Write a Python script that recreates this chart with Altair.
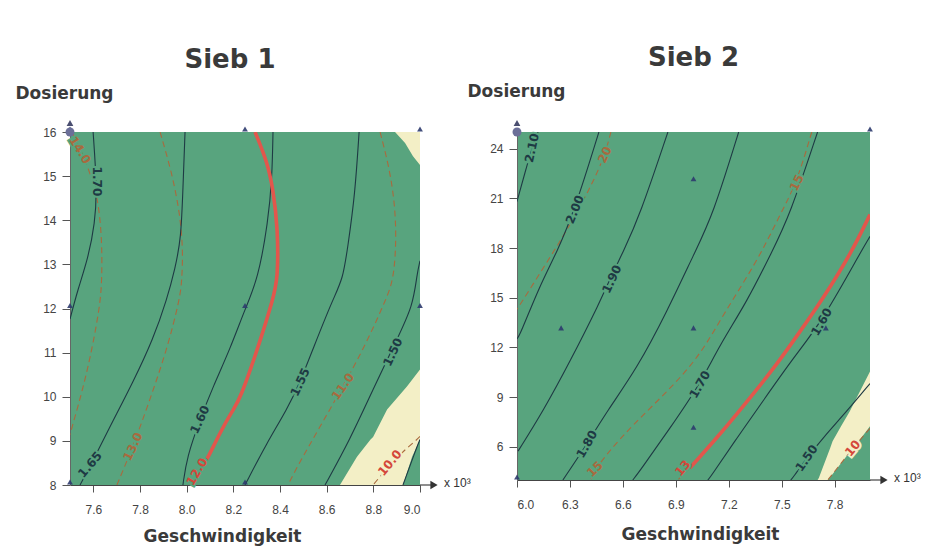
import altair as alt
import pandas as pd

# ---------------- colours ----------------
GREEN = "#58A47E"
CREAM = "#F3EFC6"
SOLID = "#1E3A44"
BROWN = "#A86A3E"
RED = "#E2564C"
MARK = "#2E3B6E"

# ================= Sieb 1 =================
S1_X_DOMAIN = [7.5, 9.0]
S1_Y_DOMAIN = [8, 16]
S1_X_TICKS = [7.6, 7.8, 8.0, 8.2, 8.4, 8.6, 8.8, 9.0]
S1_Y_TICKS = [8, 9, 10, 11, 12, 13, 14, 15, 16]

# solid contours (x, y)
s1_c170 = [(7.599, 16.0), (7.616, 14.72), (7.607, 13.93), (7.577, 13.13), (7.534, 12.44), (7.500, 11.76)]
s1_c165 = [(7.993, 16.0), (7.984, 14.72), (7.976, 13.58), (7.950, 12.90), (7.916, 12.22), (7.856, 11.30),
           (7.770, 10.33), (7.671, 9.32), (7.594, 8.50), (7.543, 8.0)]
s1_c160 = [(8.370, 16.0), (8.366, 14.95), (8.349, 13.97), (8.306, 12.67), (8.250, 11.99), (8.186, 11.08),
           (8.113, 10.23), (8.057, 9.48), (8.001, 8.64), (7.984, 8.0)]
s1_c155 = [(8.739, 16.0), (8.721, 14.56), (8.691, 13.42), (8.670, 12.67), (8.627, 12.22), (8.541, 11.08),
           (8.486, 10.33), (8.430, 9.71), (8.344, 8.96), (8.250, 8.0)]
s1_c150 = [(9.0, 13.08), (8.987, 12.78), (8.970, 12.06), (8.901, 11.30), (8.799, 10.17), (8.700, 9.03), (8.593, 8.0)]
s1_c145 = [(9.0, 9.03), (8.987, 8.87), (8.927, 8.0)]
# dashed contours
s1_d140 = [(7.509, 16.0), (7.543, 15.64), (7.586, 15.07), (7.620, 14.50), (7.637, 13.58), (7.637, 12.67),
           (7.629, 12.06), (7.586, 10.85), (7.543, 9.94), (7.509, 9.32), (7.500, 9.14)]
s1_d130 = [(7.886, 16.0), (7.937, 15.07), (7.971, 14.15), (7.984, 13.36), (7.980, 12.67), (7.971, 12.22),
           (7.916, 11.08), (7.843, 9.94), (7.770, 8.87), (7.701, 8.0)]
s1_d120 = [(8.070, 8.46), (8.014, 8.0)]
s1_d110 = [(8.829, 16.0), (8.880, 14.95), (8.901, 13.81), (8.889, 12.67), (8.855, 12.22), (8.773, 11.24),
           (8.670, 10.23), (8.571, 9.32), (8.473, 8.41), (8.434, 8.0)]
s1_d100 = [(9.0, 9.10), (8.987, 9.03), (8.901, 8.64), (8.816, 8.11), (8.799, 8.0)]
# highlighted (red) contour
s1_red = [(8.293, 16.0), (8.344, 15.34), (8.370, 14.72), (8.391, 13.81), (8.391, 12.67), (8.370, 12.22),
          (8.314, 11.24), (8.229, 9.94), (8.199, 9.71), (8.143, 9.19), (8.087, 8.57), (8.070, 8.46)]
# light regions: y, x-left, x-right
s1_cream1_y = [10.62, 10.23, 9.71, 9.09, 9.03, 8.64, 8.0]
s1_cream1_xl = [9.0, 8.944, 8.859, 8.799, 8.788, 8.730, 8.657]
s1_cream1_xr = [9.0, 9.0, 9.0, 9.0, 9.0, 8.966, 8.927]
s1_cream2_y = [16.0, 15.75, 15.45, 15.25]
s1_cream2_xl = [8.893, 8.936, 8.970, 9.0]
s1_cream2_xr = [9.0, 9.0, 9.0, 9.0]
# contour labels
s1_lab_text = ["14.0", "1.70", "1.65", "13.0", "1.60", "12.0", "1.55", "11.0", "1.50", "10.0"]
s1_lab_x = [7.543, 7.616, 7.586, 7.770, 8.057, 8.044, 8.486, 8.670, 8.884, 8.871]
s1_lab_y = [15.59, 14.88, 8.46, 8.87, 9.48, 8.30, 10.33, 10.23, 11.01, 8.50]
s1_lab_angle = [58, 90, -50, -65, -65, -60, -65, -55, -65, -50]
s1_lab_kind = ["dashed", "solid", "solid", "dashed", "solid", "red", "solid", "dashed", "solid", "red"]
s1_lab_halo = ["g", "g", "g", "g", "g", "g", "g", "g", "g", "c"]
# design points
s1_pts_x = [7.5, 8.25, 9.0, 7.5, 8.25, 9.0, 7.5, 8.25]
s1_pts_y = [16, 16, 16, 12, 12, 12, 8, 8]

# ================= Sieb 2 =================
S2_X_DOMAIN = [6.0, 8.0]
S2_Y_DOMAIN = [4, 25]
S2_X_TICKS = [6.0, 6.3, 6.6, 6.9, 7.2, 7.5, 7.8]
S2_Y_TICKS = [6, 9, 12, 15, 18, 21, 24]

s2_c210 = [(6.0, 20.8), (6.006, 21.04), (6.045, 22.54), (6.085, 24.04), (6.119, 25.0)]
s2_c200 = [(6.464, 25.0), (6.328, 20.32), (6.226, 17.74), (6.130, 15.76), (6.017, 12.76), (6.0, 12.52)]
s2_c190 = [(6.855, 25.0), (6.696, 19.96), (6.600, 17.74), (6.526, 16.12), (6.470, 14.74), (6.300, 11.14),
           (6.147, 8.14), (6.006, 5.74)]
s2_c180 = [(7.256, 25.0), (7.109, 19.96), (7.007, 17.74), (6.849, 14.14), (6.679, 10.72), (6.509, 8.14),
           (6.396, 6.16), (6.260, 4.0)]
s2_c170 = [(7.703, 25.0), (7.545, 19.96), (7.443, 17.74), (7.302, 14.74), (7.149, 12.16), (7.036, 9.76),
           (6.866, 7.12), (6.696, 4.54), (6.656, 4.0)]
s2_c160 = [(8.0, 18.70), (7.924, 17.32), (7.726, 13.54), (7.562, 11.32), (7.392, 8.74), (7.245, 6.52),
           (7.092, 4.12), (7.081, 4.0)]
s2_c150 = [(8.0, 9.82), (7.868, 8.14), (7.732, 6.52), (7.641, 5.32), (7.562, 4.12), (7.551, 4.0)]
s2_d20 = [(6.532, 25.0), (6.498, 23.62), (6.430, 21.94), (6.300, 19.36), (6.187, 17.44), (6.045, 15.04), (6.0, 14.3)]
s2_d15 = [(7.670, 25.0), (7.585, 21.94), (7.488, 19.96), (7.358, 17.14), (7.166, 13.96), (7.019, 11.14),
          (6.753, 8.32), (6.583, 6.52), (6.441, 4.66), (6.419, 4.0)]
s2_d13 = [(6.979, 4.72), (6.911, 4.0)]
s2_d10 = [(8.0, 7.12), (7.902, 5.92), (7.771, 4.12), (7.760, 4.0)]
s2_red = [(8.0, 20.02), (7.896, 17.74), (7.732, 14.92), (7.602, 12.94), (7.471, 10.96), (7.336, 9.16),
          (7.166, 6.94), (6.979, 4.72)]
s2_cream_y = [10.54, 8.14, 7.24, 6.34, 5.92, 4.12, 4.0]
s2_cream_xl = [8.0, 7.885, 7.836, 7.788, 7.774, 7.710, 7.703]
s2_cream_xr = [8.0, 8.0, 8.0, 7.936, 7.902, 7.771, 7.760]
s2_lab_text = ["2.10", "20", "2.00", "1.90", "15", "1.70", "1.60", "1.80", "15", "13", "1.50", "10"]
s2_lab_x = [6.085, 6.498, 6.328, 6.538, 7.585, 7.036, 7.726, 6.396, 6.441, 6.939, 7.641, 7.902]
s2_lab_y = [24.04, 23.62, 20.32, 16.12, 21.94, 9.76, 13.54, 6.16, 4.66, 4.72, 5.32, 5.92]
s2_lab_angle = [-78, -65, -68, -65, -65, -60, -60, -60, -45, -50, -55, -50]
s2_lab_kind = ["solid", "dashed", "solid", "solid", "dashed", "solid", "solid", "solid", "dashed", "red", "solid", "red"]
s2_lab_halo = ["g", "g", "g", "g", "g", "g", "g", "g", "g", "g", "g", "c"]
s2_pts_x = [8.0, 7.0, 6.25, 7.0, 7.75, 7.0, 6.0]
s2_pts_y = [25, 22, 13, 13, 13, 7, 4]

KIND_COLOR = {"solid": SOLID, "dashed": BROWN, "red": "#D4473A"}
HALO_COLOR = {"g": GREEN, "c": CREAM}


def lines_df(lines):
    rows = []
    for name, pts in lines.items():
        for i, (x, y) in enumerate(pts):
            rows.append({"line": name, "i": i, "x": x, "y": y})
    return pd.DataFrame(rows)


def panel(title, title_dx, xdom, ydom, xticks, yticks, w, h, xt_x, xt_pad, yt_x, yt_y,
          solid, dashed, red, creams, labs, pts):
    xs = alt.Scale(domain=xdom, nice=False, zero=False)
    ys = alt.Scale(domain=ydom, nice=False, zero=False)
    xax = alt.Axis(values=xticks, format=".1f", title="Geschwindigkeit", titleX=xt_x,
                   titleFont="DejaVu Sans", titleFontSize=17, titleFontWeight="bold", titleColor="#3a3a3a",
                   titlePadding=xt_pad, labelFont="Liberation Sans", labelFontSize=12, labelColor="#444",
                   tickSize=7, tickColor="#555", domainColor="#444", labelPadding=12, grid=False)
    yax = alt.Axis(values=yticks, format="d", title="Dosierung", titleAngle=0, titleAlign="left",
                   titleBaseline="middle", titleX=yt_x, titleY=yt_y,
                   titleFont="DejaVu Sans", titleFontSize=17, titleFontWeight="bold", titleColor="#3a3a3a",
                   labelFont="Liberation Sans", labelFontSize=12, labelColor="#444",
                   tickSize=8, tickColor="#555", domainColor="#666", labelPadding=6, grid=False)

    def X(f):
        return alt.X(f"{f}:Q", scale=xs, axis=xax)

    def Y(f):
        return alt.Y(f"{f}:Q", scale=ys, axis=yax)

    layers = []
    for cy, cxl, cxr in creams:
        cdf = pd.DataFrame({"y": cy, "xl": cxl, "xr": cxr})
        layers.append(alt.Chart(cdf).mark_area(orient="horizontal", color=CREAM, clip=True)
                      .encode(y=Y("y"), x=X("xl"), x2=alt.X2("xr:Q")))
    layers.append(alt.Chart(lines_df(dashed)).mark_line(color=BROWN, strokeWidth=1.1, strokeDash=[6, 4],
                                                        interpolate="basis", clip=True)
                  .encode(x=X("x"), y=Y("y"), detail="line:N", order="i:Q"))
    layers.append(alt.Chart(lines_df(solid)).mark_line(color=SOLID, strokeWidth=1.1,
                                                       interpolate="basis", clip=True)
                  .encode(x=X("x"), y=Y("y"), detail="line:N", order="i:Q"))
    layers.append(alt.Chart(lines_df(red)).mark_line(color=RED, strokeWidth=3.6,
                                                     interpolate="basis", clip=True)
                  .encode(x=X("x"), y=Y("y"), detail="line:N", order="i:Q"))
    ldf = pd.DataFrame({"t": labs[0], "x": labs[1], "y": labs[2], "a": labs[3],
                        "c": [KIND_COLOR[k] for k in labs[4]], "h": [HALO_COLOR[k] for k in labs[5]]})
    txt = dict(font="DejaVu Sans", fontWeight="bold", fontSize=12, align="center", baseline="middle")
    layers.append(alt.Chart(ldf).mark_text(strokeWidth=4, **txt)
                  .encode(x=X("x"), y=Y("y"), text="t:N", angle=alt.Angle("a:Q", scale=None),
                          color=alt.Color("h:N", scale=None), stroke=alt.Stroke("h:N", scale=None)))
    layers.append(alt.Chart(ldf).mark_text(**txt)
                  .encode(x=X("x"), y=Y("y"), text="t:N", angle=alt.Angle("a:Q", scale=None),
                          color=alt.Color("c:N", scale=None)))
    pdf = pd.DataFrame({"x": pts[0], "y": pts[1]})
    layers.append(alt.Chart(pdf).mark_point(shape="triangle-up", filled=True, size=34, color=MARK,
                                            opacity=0.9, yOffset=-3, clip=False)
                  .encode(x=X("x"), y=Y("y")))
    cdf = pd.DataFrame({"x": [xdom[0]], "y": [ydom[1]]})
    layers.append(alt.Chart(cdf).mark_point(shape="circle", filled=True, size=80, color="#6B6F98",
                                            opacity=1, clip=False).encode(x=X("x"), y=Y("y")))
    layers.append(alt.Chart(cdf).mark_point(shape="triangle-up", filled=True, size=45, color="#4A4E70",
                                            opacity=1, yOffset=-9, clip=False).encode(x=X("x"), y=Y("y")))
    adf = pd.DataFrame({"x": [xdom[1]], "y": [ydom[0]], "t": ["x 10³"]})
    layers.append(alt.Chart(adf).mark_rule(color="#444", strokeWidth=1.2, x2Offset=12, clip=False)
                  .encode(x=X("x"), x2=alt.X2("x:Q"), y=Y("y")))
    layers.append(alt.Chart(adf).mark_point(shape="triangle-right", filled=True, size=70, color="#333",
                                            opacity=1, xOffset=14, clip=False).encode(x=X("x"), y=Y("y")))
    layers.append(alt.Chart(adf).mark_text(align="left", baseline="middle", xOffset=24, dy=-2,
                                           font="Liberation Sans", fontSize=12, color="#333", clip=False)
                  .encode(x=X("x"), y=Y("y"), text="t:N"))

    return alt.layer(*layers).properties(
        width=w, height=h,
        title=alt.TitleParams(title, font="DejaVu Sans", fontSize=26, fontWeight="bold", color="#3a3a3a",
                              anchor="middle", frame="group", dx=title_dx, offset=11))


p1 = panel("Sieb 1", -15, S1_X_DOMAIN, S1_Y_DOMAIN, S1_X_TICKS, S1_Y_TICKS, 350, 353, 152, 13, -55, -39,
           {"1.70": s1_c170, "1.65": s1_c165, "1.60": s1_c160, "1.55": s1_c155, "1.50": s1_c150, "1.45": s1_c145},
           {"14.0": s1_d140, "13.0": s1_d130, "12.0": s1_d120, "11.0": s1_d110, "10.0": s1_d100},
           {"12.0": s1_red},
           [(s1_cream1_y, s1_cream1_xl, s1_cream1_xr), (s1_cream2_y, s1_cream2_xl, s1_cream2_xr)],
           (s1_lab_text, s1_lab_x, s1_lab_y, s1_lab_angle, s1_lab_kind, s1_lab_halo),
           (s1_pts_x, s1_pts_y))

p2 = panel("Sieb 2", 0, S2_X_DOMAIN, S2_Y_DOMAIN, S2_X_TICKS, S2_Y_TICKS, 353, 348, 183, 16, -50, -41,
           {"2.10": s2_c210, "2.00": s2_c200, "1.90": s2_c190, "1.80": s2_c180, "1.70": s2_c170,
            "1.60": s2_c160, "1.50": s2_c150},
           {"20": s2_d20, "15": s2_d15, "13": s2_d13, "10": s2_d10},
           {"13": s2_red},
           [(s2_cream_y, s2_cream_xl, s2_cream_xr)],
           (s2_lab_text, s2_lab_x, s2_lab_y, s2_lab_angle, s2_lab_kind, s2_lab_halo),
           (s2_pts_x, s2_pts_y))

chart = alt.hconcat(p1, p2, spacing=97, bounds="flush").properties(
    padding={"left": 7, "top": 37, "right": 0, "bottom": 4},
    background="white",
).configure_view(fill=GREEN, stroke=None)

chart.save("out.html", embed_options={"renderer": "svg", "actions": False})
